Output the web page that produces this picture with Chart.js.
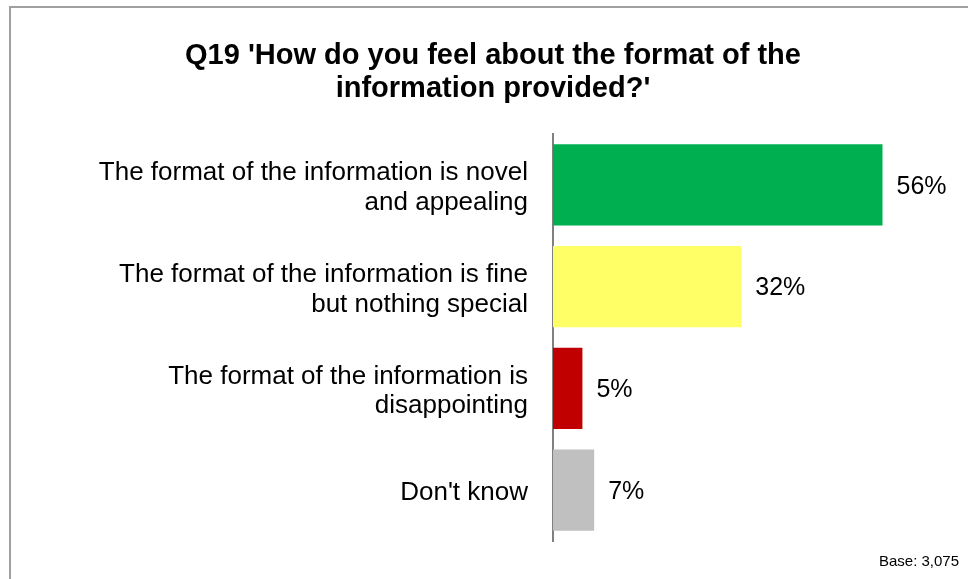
<!DOCTYPE html>
<html>
<head>
<meta charset="utf-8">
<script src="https://cdn.jsdelivr.net/npm/chart.js@4.4.1/dist/chart.umd.min.js"></script>
<style>
  html, body { margin: 0; padding: 0; background: #fff; overflow: hidden; }
  #frame {
    position: absolute; left: 9px; top: 6px;
    width: 1000px; height: 620px;
    border: 2px solid #a0a0a0;
  }
  #wrap { position: absolute; left: 0; top: 0; width: 968px; height: 579px; }
</style>
</head>
<body>
<div id="frame"></div>
<div id="wrap"><canvas id="q19Chart"></canvas></div>
<script>
// Q19 answers, percent of respondents
const answers = [
  ["The format of the information is novel", "and appealing"],
  ["The format of the information is fine", "but nothing special"],
  ["The format of the information is", "disappointing"],
  "Don't know"
];
const shares = [56, 32, 5, 7];
const barColors = ["#00B050", "#FFFF66", "#C00000", "#C0C0C0"];
const titleLines = ["Q19 'How do you feel about the format of the", "information provided?'"];
const baseNote = "Base: 3,075";

const mainFont = "'Liberation Sans', Arial, sans-serif";

// percent labels to the right of each bar
const valueLabels = {
  id: "valueLabels",
  afterDatasetsDraw(chart) {
    const ctx = chart.ctx;
    const meta = chart.getDatasetMeta(0);
    ctx.save();
    ctx.font = "25px " + mainFont;
    ctx.fillStyle = "#000";
    ctx.textAlign = "left";
    ctx.textBaseline = "middle";
    meta.data.forEach((bar, i) => {
      ctx.fillText(shares[i] + "%", bar.x + 14, bar.y + 2);
    });
    ctx.restore();
  }
};

const data = {
  labels: answers,
  datasets: [
    {
      data: shares,
      backgroundColor: barColors,
      borderWidth: 0,
      barPercentage: 0.8,
      categoryPercentage: 1.0,
    },
  ],
};

const config = {
  type: "bar",
  data: data,
  options: {
    indexAxis: "y",
    responsive: true,
    maintainAspectRatio: false,
    animation: false,
    layout: { padding: { left: 27, right: 9, top: 0, bottom: 0 } },
    plugins: {
      legend: { display: false },
      tooltip: { enabled: false },
      title: {
        display: true,
        text: titleLines,
        color: "#000",
        font: { family: mainFont, size: 29, weight: "bold", lineHeight: 1.12 },
        padding: { top: 40, bottom: 29 },
      },
      subtitle: {
        display: true,
        position: "bottom",
        align: "end",
        text: baseNote,
        color: "#000",
        font: { family: mainFont, size: 15, lineHeight: 1.2 },
        padding: { top: 11.5, bottom: 8.5 },
      },
    },
    scales: {
      x: {
        display: false,
        min: 0,
        max: 69,
      },
      y: {
        grid: { display: false, drawTicks: false },
        border: { display: true, color: "#808080", width: 2 },
        ticks: {
          color: "#000",
          padding: 25,
          labelOffset: 3,
          font: { family: mainFont, size: 26, lineHeight: 1.15 },
        },
        afterFit(scale) {
          scale.width = 526;
          // keep the edge labels from shrinking the plot area
          scale.paddingTop = 0;
          scale.paddingBottom = 0;
        },
      },
    },
  },
  plugins: [valueLabels],
};

const ctx = document.getElementById("q19Chart").getContext("2d");
const q19Chart = new Chart(ctx, config);
</script>
</body>
</html>
